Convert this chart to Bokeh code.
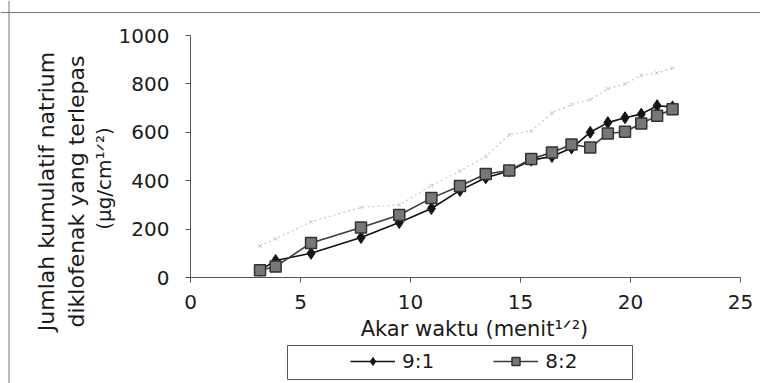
import math
from bokeh.plotting import figure
from bokeh.models import (Range1d, Legend, LegendItem, FixedTicker, Label,
                          BoxAnnotation, Span)
from bokeh.embed import file_html
from bokeh.resources import INLINE

# ---- data ----
akar_waktu = [3.16, 3.87, 5.48, 7.75, 9.49, 10.95, 12.25, 13.42, 14.49, 15.49,
              16.43, 17.32, 18.17, 18.97, 19.75, 20.49, 21.21, 21.91]
seri_9_1 = [30, 70, 100, 165, 227, 285, 360, 412, 440, 485,
            500, 535, 600, 640, 660, 675, 710, 705]
seri_8_2 = [30, 45, 143, 207, 258, 328, 378, 428, 442, 490,
            517, 550, 537, 595, 602, 636, 668, 695]
seri_samar = [130, 160, 230, 290, 300, 380, 440, 500, 590, 605,
              680, 715, 735, 780, 800, 835, 845, 865]
x_ticks = [0, 5, 10, 15, 20, 25]
y_ticks = [0, 200, 400, 600, 800, 1000]
label_9_1 = "9:1"
label_8_2 = "8:2"
x_title = "Akar waktu (menit\u00b9\u141f\u00b2)"
y_title_lines = ["Jumlah kumulatif natrium", "diklofenak yang terlepas",
                 "(\u00b5g/cm\u00b9\u141f\u00b2)"]

FONT = "DejaVu Sans"
TXT = "#1a1a1a"

# picture-pixel layout: the canvas is the whole frame;
# data 0..25 -> px 190..740, data 0..1000 -> py 277..35
CL, CR, CT, CB = 0, 760, 0, 383
PX0, PX1, PY0, PY1 = 190, 740, 277, 35
def dx(px):
    return (px - PX0) * (x_ticks[-1] - x_ticks[0]) / (PX1 - PX0) + x_ticks[0]
def dy(py):
    return (PY0 - py) * (y_ticks[-1] - y_ticks[0]) / (PY0 - PY1) + y_ticks[0]

p = figure(width=CR - CL, height=CB - CT,
           x_range=Range1d(dx(CL), dx(CR)), y_range=Range1d(dy(CB), dy(CT)),
           output_backend="svg", toolbar_location=None,
           min_border=0)
p.grid.visible = False
p.outline_line_color = None

p.xaxis.fixed_location = y_ticks[0]
p.yaxis.fixed_location = x_ticks[0]
p.xaxis.bounds = (x_ticks[0], x_ticks[-1])
p.yaxis.bounds = (y_ticks[0], y_ticks[-1])
for ax, ticks in ((p.xaxis, x_ticks), (p.yaxis, y_ticks)):
    ax.ticker = FixedTicker(ticks=ticks)
    ax.minor_tick_line_color = None
    ax.major_tick_in = 0
    ax.major_tick_out = 5
    ax.axis_line_color = "#555555"
    ax.major_tick_line_color = "#555555"
    ax.major_label_text_font = FONT
    ax.major_label_text_font_size = "20px"
    ax.major_label_text_color = TXT
p.yaxis.major_label_standoff = 16
p.xaxis.major_label_standoff = 12

# chart-area border (top and left edges visible)
p.add_layout(Span(location=dy(12), dimension="width", line_color="#777777", line_width=1))
p.add_layout(Span(location=dx(8.5), dimension="height", line_color="#777777", line_width=1))

# faint third trace
p.line(akar_waktu, seri_samar, line_color="#c8c8c8", line_dash="2 3", line_width=1.2)
p.scatter(akar_waktu, seri_samar, marker="x", size=5, line_color="#c8c8c8")

r91_l = p.line(akar_waktu, seri_9_1, line_color="#111111", line_width=1.6)
r91_m = p.scatter(akar_waktu, seri_9_1, marker="diamond", size=12,
                  fill_color="#151515", line_color="#151515")
r82_l = p.line(akar_waktu, seri_8_2, line_color="#3a3a3a", line_width=1.6)
r82_m = p.scatter(akar_waktu, seri_8_2, marker="square", size=11,
                  fill_color="#777777", line_color="#333333", line_width=1.5)

# legend box + legend
p.add_layout(BoxAnnotation(left=dx(287), right=dx(632), top=dy(345), bottom=dy(379),
                           fill_alpha=0, fill_color=None, line_color="#555555",
                           line_width=1, line_alpha=1))
legend = Legend(items=[LegendItem(label=label_9_1, renderers=[r91_l, r91_m]),
                       LegendItem(label=label_8_2, renderers=[r82_l, r82_m])],
                orientation="horizontal", location=(350 - CL, CB - 373),
                padding=0, margin=0, spacing=59, glyph_width=45, glyph_height=20,
                label_standoff=7, label_height=20, label_text_font=FONT,
                label_text_font_size="20px", label_text_color=TXT,
                border_line_alpha=0, background_fill_alpha=0)
p.add_layout(legend)

# axis titles
p.add_layout(Label(x=dx(474), y=dy(328), text=x_title, text_font=FONT,
                   text_font_size="21px", text_color=TXT, text_align="center",
                   text_baseline="middle"))
for (cx, cy, fs), t in zip(((46, 191, "22px"), (76, 191, "22px"), (103, 178, "20px")),
                           y_title_lines):
    p.add_layout(Label(x=dx(cx), y=dy(cy), text=t, text_font=FONT, text_font_size=fs,
                       text_color=TXT, angle=math.pi / 2, text_align="center",
                       text_baseline="middle"))

open("out.html", "w").write(file_html(p, INLINE))
